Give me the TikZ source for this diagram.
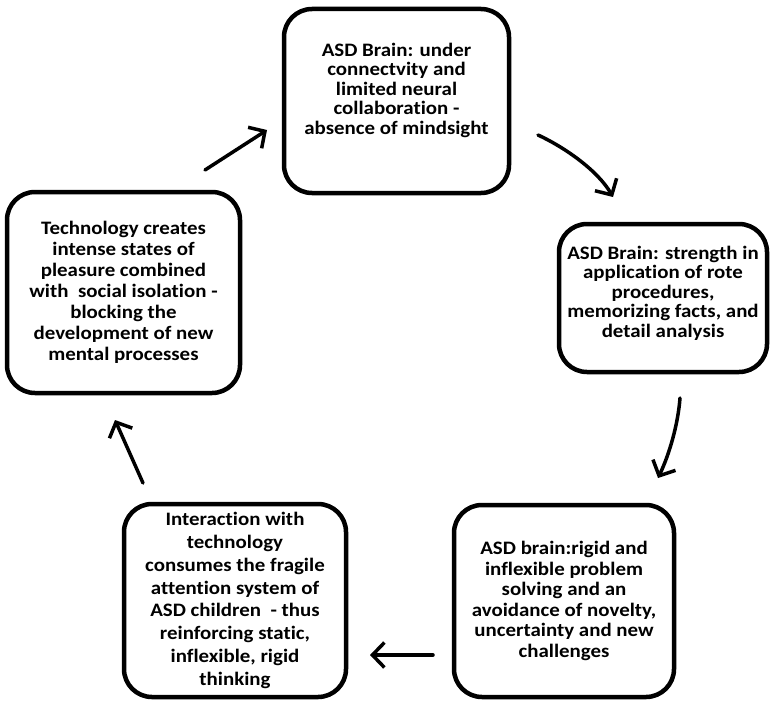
\documentclass[tikz,border=0pt]{standalone}
\usepackage{fontspec}
\setmainfont{Carlito}[FakeStretch=1.1,Ligatures=NoCommon]
\usetikzlibrary{arrows.meta}
\tikzset{
  cyclebox/.style={draw=black, line width=4.5pt, rounded corners=28pt, fill=white,
    align=center, inner sep=0pt, font=\bfseries\fontsize{19}{19.5}\selectfont},
  cyclearrow/.style={line width=3.5pt, line cap=round, line join=round,
    -{Straight Barb[length=12pt,width=25pt,line width=3.5pt]}}
}
\begin{document}
\begin{tikzpicture}[x=1pt,y=-1pt]
\useasboundingbox[fill=white] (0,0) rectangle (773,701);
\node[cyclebox, minimum width=225pt, minimum height=184pt] (b1) at (396.5,101)
  {ASD Brain: under\\connectvity and\\limited neural\\collaboration -\\absence of mindsight\\[5pt]};
\node[cyclebox, minimum width=208pt, minimum height=148pt] (b2) at (663,298)
  {ASD Brain: strength in\\application of rote\\procedures,\\memorizing facts, and\\detail analysis\\[-7pt]};
\node[cyclebox, minimum width=233pt, minimum height=201pt, font=\bfseries\fontsize{19}{21}\selectfont] (b3) at (123.5,292.5)
  {Technology creates\\intense states of\\pleasure combined\\with\ \ social isolation -\\blocking the\\development of new\\mental processes};
\node[cyclebox, minimum width=222pt, minimum height=193pt, font=\bfseries\fontsize{19}{22.8}\selectfont] (b4) at (235,600.5)
  {Interaction with\\technology\\consumes the fragile\\attention system of\\ASD children\ \ - thus\\reinforcing static,\\inflexible, rigid\\thinking};
\node[cyclebox, minimum width=220pt, minimum height=192pt, font=\bfseries\fontsize{19}{20.5}\selectfont] (b5) at (564,601)
  {ASD brain:rigid and\\inflexible problem\\solving and an\\avoidance of novelty,\\uncertainty and new\\challenges};
\coordinate (a1s) at (205,170);
\coordinate (a1e) at (267,130);
\coordinate (a2s) at (538,135);
\coordinate (a2e) at (613,197);
\coordinate (a3s) at (680,398);
\coordinate (a3e) at (658,478);
\coordinate (a4s) at (433,655);
\coordinate (a4e) at (370,655);
\coordinate (a5s) at (143,483);
\coordinate (a5e) at (115,420);
\draw[cyclearrow] (a1s) -- (a1e);
\draw[cyclearrow] (a2s) .. controls (566,148) and (598,171) .. (a2e);
\draw[cyclearrow] (a3s) .. controls (678,425) and (669,455) .. (a3e);
\draw[cyclearrow] (a4s) -- (a4e);
\draw[cyclearrow] (a5s) -- (a5e);
\end{tikzpicture}
\end{document}
